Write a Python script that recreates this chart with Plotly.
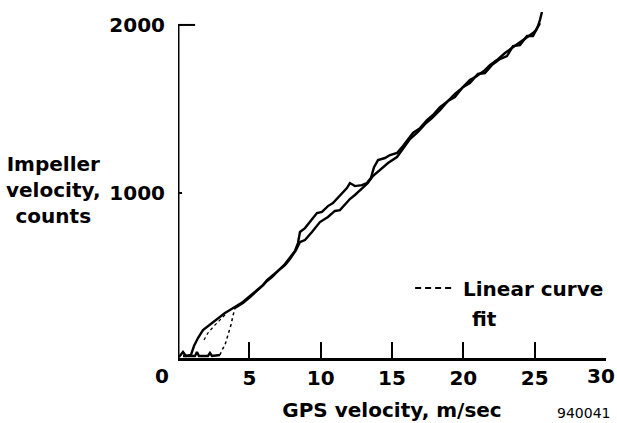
import plotly.graph_objects as go

# ---- data (GPS velocity m/sec, impeller counts) ----
run1_x = [0.07, 0.35, 0.56, 0.91, 1.12, 1.40, 1.75, 2.10, 2.45, 2.87, 3.29, 3.64, 3.99, 4.55,
          5.05, 5.54, 5.96, 6.24, 6.59, 7.01, 7.50, 7.85, 8.20, 8.41, 8.55, 8.90, 9.25, 9.74,
          10.09, 10.51, 10.86, 11.14, 11.49, 11.84, 12.05, 12.40, 12.89, 13.24, 13.52, 13.74,
          14.02, 14.51, 14.86, 15.35, 15.77, 16.12, 16.47, 16.96, 17.45, 17.87, 18.36, 18.85,
          19.41, 19.90, 20.46, 20.95, 21.51, 21.86, 22.35, 22.92, 23.41, 23.97, 24.46, 24.88,
          25.09, 25.23, 25.37, 25.51]
run1_y = [24, 54, 30, 36, 89, 137, 184, 208, 232, 262, 286, 303, 321, 351,
          387, 422, 452, 482, 506, 536, 577, 613, 655, 702, 768, 791, 827, 881,
          887, 922, 940, 964, 994, 1029, 1059, 1041, 1047, 1059, 1089, 1154,
          1196, 1208, 1226, 1238, 1279, 1315, 1357, 1386, 1434, 1464, 1511, 1541,
          1589, 1624, 1672, 1696, 1731, 1761, 1791, 1833, 1862, 1898, 1922, 1952,
          1969, 1993, 2029, 2077]

run2_low_x = [0.35, 1.19, 1.33, 1.47, 2.10, 2.24, 2.38, 2.94]
run2_low_y = [30, 30, 54, 30, 30, 48, 30, 36]

run2_gap_x = [2.94, 3.08, 3.29, 3.50, 3.71, 3.85, 3.99]
run2_gap_y = [36, 65, 95, 149, 214, 268, 315]

run2_x = [3.99, 4.55, 5.05, 5.54, 5.96, 6.24, 6.59, 7.01, 7.50, 7.85, 8.27, 8.55, 8.90, 9.39,
          9.95, 10.51, 11.00, 11.35, 11.70, 12.05, 12.40, 12.75, 12.96, 13.31, 13.66, 14.16,
          14.72, 15.35, 15.77, 16.26, 16.82, 17.31, 17.80, 18.36, 18.92, 19.41, 19.97, 20.46,
          21.02, 21.51, 22.00, 22.56, 23.06, 23.48, 23.97, 24.46, 24.88, 25.16, 25.37]
run2_y = [315, 345, 381, 417, 452, 476, 500, 536, 571, 607, 660, 708, 720, 768,
          827, 857, 893, 898, 934, 964, 988, 1017, 1029, 1059, 1101, 1136,
          1178, 1214, 1261, 1321, 1363, 1410, 1446, 1493, 1547, 1571, 1630, 1654,
          1708, 1714, 1761, 1797, 1815, 1874, 1880, 1934, 1934, 1981, 2011]

inner_x = [1.82, 2.10, 2.52, 2.94, 3.36]
inner_y = [125, 167, 208, 244, 280]

x_ticks = [5, 10, 15, 20, 25, 30]
x_ticktext = ["5", "10", "15", "20", "25", ""]   # "30" drawn separately, nudged inside the page
y_ticks = [1000, 2000]
x_range = [0, 30]
y_range = [17.9, 2077]

FONT = "DejaVu Sans"

fig = go.Figure()
fig.add_trace(go.Scatter(x=run1_x, y=run1_y, mode="lines",
                         line=dict(color="black", width=2.4), showlegend=False))
fig.add_trace(go.Scatter(x=run2_low_x, y=run2_low_y, mode="lines",
                         line=dict(color="black", width=2.4), showlegend=False))
fig.add_trace(go.Scatter(x=run2_gap_x, y=run2_gap_y, mode="lines",
                         line=dict(color="black", width=1.5, dash="dot"), showlegend=False))
fig.add_trace(go.Scatter(x=run2_x, y=run2_y, mode="lines",
                         line=dict(color="black", width=2.4), showlegend=False))
fig.add_trace(go.Scatter(x=inner_x, y=inner_y, mode="lines",
                         line=dict(color="black", width=1.2, dash="dot"), showlegend=False))

fig.update_layout(
    width=617, height=423,
    margin=dict(l=178, r=11, t=12, b=65, autoexpand=False),
    paper_bgcolor="white", plot_bgcolor="white",
    font=dict(family=FONT, size=20, color="black", weight="bold"),
    showlegend=False,
)
fig.update_xaxes(
    range=x_range, tickvals=x_ticks, ticktext=x_ticktext, showgrid=False, zeroline=False,
    showline=True, linewidth=3, linecolor="black", automargin=False,
    ticks="inside", ticklen=16, tickwidth=2, tickcolor="black",
    ticklabelstandoff=0, ticklabeloverflow="allow",
    title=dict(text="GPS velocity, m/sec", standoff=14,
               font=dict(family=FONT, size=20, weight="bold")),
)
fig.update_yaxes(
    range=y_range, tickvals=y_ticks, showgrid=False, zeroline=False, automargin=False,
    showline=False, ticks="inside", ticklen=4, tickwidth=2, tickcolor="black",
    ticklabelstandoff=12,
)

# y axis line ending at the 2000 tick, with its long top tick
fig.add_shape(type="line", xref="x", yref="y", x0=0, x1=0, y0=y_range[0], y1=y_ticks[-1],
              line=dict(color="black", width=3))
fig.add_shape(type="line", xref="x", yref="y", x0=0, x1=1.2, y0=y_ticks[-1], y1=y_ticks[-1],
              line=dict(color="black", width=2))

# legend-like key
fig.add_shape(type="line", xref="paper", yref="paper", x0=0.554, x1=0.647, y0=0.202, y1=0.202,
              line=dict(color="black", width=2, dash="6px,4px"))
fig.add_annotation(text="Linear curve", xref="paper", yref="paper", x=0.661, y=0.199,
                   xanchor="left", yanchor="middle", showarrow=False,
                   font=dict(family=FONT, size=20, weight="bold"))
fig.add_annotation(text="fit", xref="paper", yref="paper", x=0.717, y=0.113,
                   xanchor="center", yanchor="middle", showarrow=False,
                   font=dict(family=FONT, size=20, weight="bold"))

fig.add_annotation(text="Impeller<br>velocity,<br>counts", xref="paper", yref="paper",
                   x=-0.29, y=0.486, xanchor="center", yanchor="middle", showarrow=False,
                   font=dict(family=FONT, size=20, weight="bold"))
fig.add_annotation(text="0", xref="x", yref="paper", x=0, xshift=-16, y=-0.052,
                   xanchor="center", yanchor="middle", showarrow=False,
                   font=dict(family=FONT, size=20, weight="bold"))
fig.add_annotation(text="30", xref="x", yref="paper", x=x_ticks[-1], xshift=-5, y=-0.052,
                   xanchor="center", yanchor="middle", showarrow=False,
                   font=dict(family=FONT, size=20, weight="bold"))
fig.add_annotation(text="940041", xref="paper", yref="paper", x=1.014, y=-0.159,
                   xanchor="right", yanchor="middle", showarrow=False,
                   font=dict(family=FONT, size=14, weight="normal"))

fig.write_html("out.html", config={"displayModeBar": False},
               post_script="document.body.style.margin='0';document.body.style.overflow='hidden';")
